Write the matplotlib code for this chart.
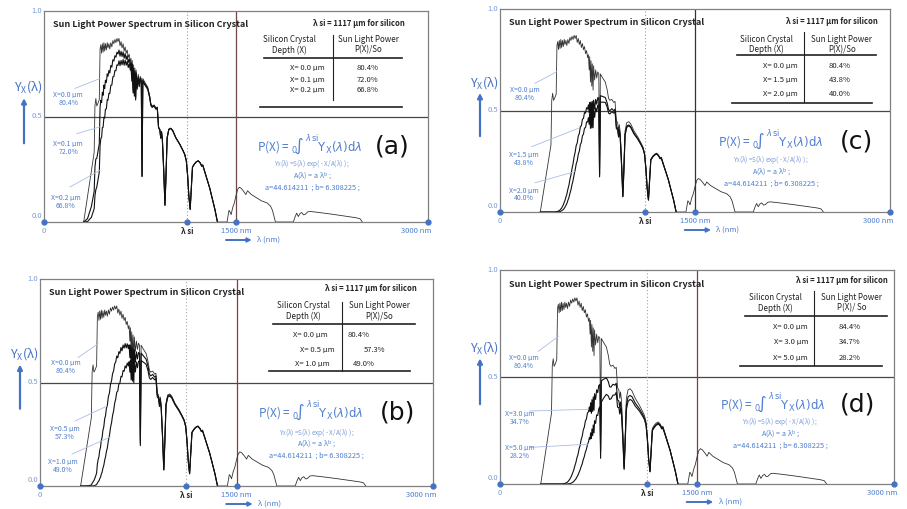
import matplotlib
matplotlib.use("Agg")
import matplotlib.pyplot as plt
import numpy as np

plt.rcParams['font.family'] = ['Noto Sans CJK JP', 'DejaVu Sans']
plt.rcParams['mathtext.fontset'] = 'dejavusans'

# sun spectrum S(lambda) read from the X=0 curve (nm, normalised power)
wl_band1 = [310, 340, 370, 392, 398, 405, 412, 420, 432, 438, 444, 450, 456, 462, 468, 474, 480, 487, 494, 500,
            507, 514, 522, 530, 538, 546, 554, 562, 570, 578, 586, 594, 602, 610, 618, 626, 634, 642, 650, 658,
            666, 674, 680, 686, 690, 696, 700, 706, 710, 716, 720, 728, 736, 744, 752, 760, 766, 772, 790, 810,
            825, 835, 845, 860, 875, 885, 895, 905, 912, 918, 925, 935, 945, 952, 962, 975, 990, 1005, 1030, 1060,
            1085, 1100, 1112, 1122, 1132, 1142, 1150, 1160, 1175, 1190, 1205, 1220, 1232, 1240, 1255, 1275, 1295, 1315, 1335, 1355]
sun_band1 = [0.000, 0.120, 0.240, 0.330, 0.550, 0.585, 0.550, 0.560, 0.580, 0.820, 0.840, 0.800, 0.845, 0.805, 0.850, 0.810, 0.845, 0.815, 0.850, 0.825,
             0.845, 0.820, 0.850, 0.830, 0.860, 0.845, 0.865, 0.850, 0.870, 0.855, 0.870, 0.835, 0.855, 0.825, 0.845, 0.810, 0.830, 0.800, 0.815, 0.780,
             0.795, 0.760, 0.775, 0.700, 0.765, 0.640, 0.745, 0.620, 0.730, 0.600, 0.720, 0.650, 0.700, 0.660, 0.690, 0.680, 0.220, 0.680, 0.660, 0.640,
             0.600, 0.560, 0.550, 0.555, 0.540, 0.545, 0.450, 0.440, 0.400, 0.430, 0.390, 0.250, 0.080, 0.200, 0.400, 0.440, 0.445, 0.435, 0.400, 0.370,
             0.340, 0.320, 0.290, 0.220, 0.120, 0.060, 0.150, 0.260, 0.275, 0.285, 0.290, 0.280, 0.265, 0.270, 0.240, 0.200, 0.160, 0.110, 0.060, 0.000]
wl_band2 = [1430, 1445, 1452, 1462, 1475, 1487, 1500, 1513, 1526, 1540, 1560, 1577, 1590, 1620, 1660, 1700, 1744, 1770, 1785, 1800, 1808]
sun_band2 = [0.000, 0.055, 0.050, 0.035, 0.070, 0.090, 0.125, 0.155, 0.165, 0.160, 0.145, 0.130, 0.148, 0.130, 0.115, 0.100, 0.090, 0.075, 0.055, 0.020, 0.000]
wl_band3 = [1948, 1962, 1974, 1987, 2000, 2013, 2028, 2040, 2060, 2080, 2150, 2250, 2350, 2440, 2470, 2487]
sun_band3 = [0.000, 0.025, 0.042, 0.026, 0.040, 0.045, 0.034, 0.036, 0.048, 0.050, 0.045, 0.037, 0.028, 0.020, 0.015, 0.000]

# curves inside the crystal, on the wl_band1 grid (values x 1000)
y_x01 = [0, 16, 73, 145, 260, 299, 301, 328, 371, 544, 577, 566, 615, 601, 649, 632, 672, 661, 702, 691,
         718, 706, 742, 734, 769, 763, 788, 781, 805, 796, 815, 786, 809, 784, 806, 776, 798, 771, 788, 756,
         772, 740, 755, 683, 747, 626, 729, 608, 716, 589, 707, 639, 689, 651, 681, 671, 217, 672, 653, 635,
         595, 556, 546, 552, 537, 542, 448, 438, 398, 428, 389, 249, 80, 199, 399, 439, 444, 434, 399, 369,
         340, 320, 290, 220, 120, 60, 150, 260, 275, 285, 290, 280, 265, 270, 240, 200, 160, 110, 60, 0]
y_x02 = [0, 2, 22, 63, 123, 153, 165, 193, 237, 362, 396, 401, 448, 449, 496, 493, 534, 536, 579, 578,
         610, 608, 648, 649, 688, 689, 718, 717, 745, 742, 764, 741, 766, 745, 770, 743, 767, 743, 762, 732,
         750, 720, 736, 667, 730, 612, 714, 596, 702, 578, 695, 629, 679, 641, 672, 663, 215, 665, 647, 629,
         591, 552, 543, 549, 534, 540, 446, 436, 397, 427, 387, 248, 79, 199, 398, 438, 443, 433, 399, 369,
         339, 319, 289, 220, 120, 60, 150, 260, 275, 285, 290, 280, 265, 270, 240, 200, 160, 110, 60, 0]
y_x05 = [0, 0, 1, 5, 13, 20, 27, 39, 62, 106, 128, 142, 173, 187, 221, 234, 268, 286, 326, 339,
         375, 389, 432, 449, 491, 508, 543, 556, 590, 599, 628, 619, 649, 640, 669, 653, 681, 666, 688, 667,
         687, 664, 682, 620, 681, 573, 670, 561, 662, 547, 659, 598, 648, 614, 645, 638, 207, 642, 628, 613,
         578, 541, 532, 539, 526, 532, 440, 431, 392, 422, 383, 246, 79, 197, 394, 434, 440, 430, 396, 367,
         338, 318, 288, 219, 119, 60, 149, 259, 274, 284, 289, 279, 264, 269, 239, 199, 159, 110, 60, 0]
y_x10 = [0, 0, 0, 0, 0, 1, 1, 3, 7, 14, 20, 25, 35, 43, 57, 67, 85, 100, 125, 140,
         166, 184, 220, 243, 281, 305, 341, 363, 400, 420, 453, 459, 493, 497, 530, 527, 558, 554, 580, 570,
         594, 580, 600, 550, 606, 513, 602, 507, 601, 499, 603, 551, 599, 571, 603, 599, 195, 606, 598, 588,
         556, 522, 515, 524, 513, 519, 430, 422, 384, 414, 376, 242, 77, 194, 389, 429, 434, 426, 393, 364,
         335, 316, 287, 218, 119, 59, 149, 258, 273, 283, 288, 278, 263, 268, 239, 199, 159, 110, 60, 0]
y_x15 = [0, 0, 0, 0, 0, 0, 0, 0, 1, 2, 3, 5, 7, 10, 15, 19, 27, 35, 48, 57,
         74, 87, 112, 131, 161, 183, 214, 238, 271, 294, 327, 340, 374, 386, 420, 425, 457, 461, 490, 487,
         514, 507, 528, 487, 539, 460, 542, 458, 545, 455, 551, 507, 555, 531, 563, 562, 184, 573, 569, 564,
         536, 504, 499, 509, 499, 507, 421, 413, 377, 406, 369, 237, 76, 191, 383, 423, 429, 421, 389, 361,
         333, 314, 285, 216, 118, 59, 148, 257, 272, 282, 287, 277, 263, 268, 238, 199, 159, 109, 60, 0]
y_x20 = [0, 0, 0, 0, 0, 0, 0, 0, 0, 0, 0, 1, 1, 2, 4, 6, 9, 12, 18, 24,
         33, 41, 57, 71, 92, 110, 135, 155, 184, 206, 236, 252, 284, 299, 332, 343, 375, 384, 413, 416,
         444, 443, 465, 432, 480, 412, 487, 414, 495, 415, 504, 466, 513, 494, 526, 528, 173, 541, 541, 540,
         516, 487, 483, 494, 487, 495, 411, 404, 369, 398, 362, 233, 75, 188, 378, 417, 424, 417, 385, 359,
         331, 312, 283, 215, 118, 59, 147, 255, 271, 281, 286, 276, 262, 267, 237, 198, 159, 109, 60, 0]
y_x30 = [0, 0, 0, 0, 0, 0, 0, 0, 0, 0, 0, 0, 0, 0, 0, 0, 1, 2, 3, 4,
         6, 9, 15, 21, 30, 40, 53, 66, 85, 101, 123, 138, 164, 180, 208, 223, 252, 266, 294, 304,
         332, 338, 360, 339, 380, 330, 394, 339, 407, 345, 422, 395, 440, 427, 460, 465, 153, 482, 490, 496,
         478, 454, 453, 466, 462, 471, 393, 388, 355, 383, 349, 226, 73, 182, 367, 407, 414, 408, 378, 353,
         327, 308, 280, 213, 116, 58, 146, 253, 268, 279, 284, 275, 260, 265, 236, 197, 158, 109, 59, 0]
y_x50 = [0, 0, 0, 0, 0, 0, 0, 0, 0, 0, 0, 0, 0, 0, 0, 0, 0, 0, 0, 0,
         0, 0, 1, 2, 3, 5, 8, 12, 18, 24, 33, 42, 54, 66, 82, 94, 114, 128, 149, 162,
         185, 197, 216, 209, 239, 213, 257, 226, 276, 239, 296, 283, 323, 320, 351, 361, 120, 383, 402, 419,
         411, 395, 398, 415, 416, 428, 359, 357, 327, 355, 325, 211, 68, 172, 347, 386, 395, 390, 364, 342,
         318, 301, 274, 208, 114, 57, 143, 249, 264, 275, 280, 271, 257, 262, 234, 195, 157, 108, 59, 0]

lambda_si = 1117
depths = [[0.0, 0.1, 0.2], [0.0, 0.5, 1.0], [0.0, 1.5, 2.0], [0.0, 3.0, 5.0]]
table_pct = [['80.4%', '72.0%', '66.8%'], ['80.4%', '57.3%', '49.0%'],
             ['80.4%', '43.8%', '40.0%'], ['84.4%', '34.7%', '28.2%']]
curve_pct = [['80.4%', '72.0%', '66.8%'], ['80.4%', '57.3%', '49.0%'],
             ['80.4%', '43.8%', '40.0%'], ['80.4%', '34.7%', '28.2%']]
panel_names = ['(a)', '(b)', '(c)', '(d)']

y_curves = {0.1: y_x01, 0.2: y_x02, 0.5: y_x05, 1.0: y_x10, 1.5: y_x15, 2.0: y_x20, 3.0: y_x30, 5.0: y_x50}

BLUE = '#4472c4'
TXT = '#4f7fcf'
LIGHT = '#7b9bd8'
W, H = 907, 509
boxes = [(44, 11, 428, 222), (40, 279, 433, 486), (500, 9, 890, 212), (500, 270, 894, 484)]
vline_col = ['#6e4848', '#8a3c3c', '#333333', '#8a3c3c']
si_col = ['#9a9a9a', '#a8a8a8', '#9a9a9a', '#d98a8a']

# layout per panel (nm / Y positions)
lay = [
    dict(note=(2820, 0.942), c1=1914, c2=2531, div=(2258, 0.578, 0.886), head=(0.866, 0.815),
         rule1=(0.776, 1719, 2797), rows=(0.728, 0.673, 0.626), rlab=[2195] * 3, rval=[2529] * 3,
         rule2=(0.546, 1688, 2795), form=(2078, 0.357), small=(2095, 0.275, 0.227, 0.171), name=(2723, 0.357),
         labs=[(190, 0.604), (190, 0.369), (169, 0.114)],
         ptr=[(242, 0.633, 437, 0.68), (258, 0.419, 437, 0.451), (203, 0.166, 437, 0.245)]),
    dict(note=(2876, 0.955), c1=2009, c2=2590, div=(2303, 0.554, 0.891), head=(0.872, 0.819),
         rule1=(0.784, 1780, 2863), rows=(0.731, 0.655, 0.59), rlab=[2199, 2252, 2214], rval=[2436, 2557, 2473],
         rule2=(0.555, 1750, 2825), form=(2069, 0.356), small=(2112, 0.26, 0.21, 0.154), name=(2733, 0.356),
         labs=[(198, 0.595), (191, 0.274), (172, 0.114)],
         ptr=[(290, 0.62, 443, 0.6875), (267, 0.314, 511, 0.386), (244, 0.154, 534, 0.236)]),
    dict(note=(2908, 0.937), c1=2046, c2=2628, div=(2338, 0.543, 0.888), head=(0.851, 0.801),
         rule1=(0.773, 1823, 2892), rows=(0.719, 0.650, 0.58), rlab=[2292] * 3, rval=[2615] * 3,
         rule2=(0.538, 1785, 2862), form=(2085, 0.346), small=(2089, 0.256, 0.207, 0.149), name=(2744, 0.346),
         labs=[(192, 0.60), (180, 0.281), (180, 0.105)],
         ptr=[(269, 0.634, 436, 0.691), (244, 0.322, 602, 0.412), (269, 0.144, 577, 0.199)]),
    dict(note=(2955, 0.953), c1=2094, c2=2678, div=(2391, 0.558, 0.90), head=(0.871, 0.822),
         rule1=(0.786, 1865, 2944), rows=(0.732, 0.662, 0.589), rlab=[2347] * 3, rval=[2665] * 3,
         rule2=(0.553, 1827, 2906), form=(2075, 0.372), small=(2132, 0.294, 0.24, 0.186), name=(2726, 0.372),
         labs=[(178, 0.589), (152, 0.329), (152, 0.17)],
         ptr=[(292, 0.62, 444, 0.69), (228, 0.341, 672, 0.349), (228, 0.171, 672, 0.186)]),
]

wl_all = wl_band1 + wl_band2 + wl_band3
sun_all = sun_band1 + sun_band2 + sun_band3

fig = plt.figure(figsize=(9.07, 5.09), dpi=100)
for i, (l, t, r, b) in enumerate(boxes):
    L = lay[i]
    ax = fig.add_axes([l / W, 1 - b / H, (r - l) / W, (b - t) / H])
    ax.set_xlim(0, 3000)
    ax.set_ylim(0, 1)
    ax.set_xticks([])
    ax.set_yticks([])
    for sp in ax.spines.values():
        sp.set_color('#808080')
        sp.set_linewidth(0.9)
    wpx, hpx = r - l, b - t
    xt = ax.get_xaxis_transform()

    ax.axhline(0.5, color='#474747', lw=0.9)
    ax.axvline(1500, color=vline_col[i], lw=0.9)
    ax.axvline(lambda_si, color=si_col[i], lw=0.8, ls=(0, (1, 2)))

    # X = 0 curve (sun spectrum) and the two deeper curves
    ax.plot(wl_all, sun_all, color='#333333', lw=0.6)
    for X in depths[i][1:]:
        ax.plot(wl_band1, np.array(y_curves[X]) / 1000, color='#111111', lw=0.8)

    ax.plot([0, lambda_si, 1500, 3000], [0, 0, 0, 0], 'o', ms=3.5, color=BLUE, clip_on=False, zorder=5)

    # y tick labels and axis name
    for yv, lab in [(1.0, '1.0'), (0.5, '0.5'), (0.03, '0.0')]:
        ax.text(-2 / wpx, yv, lab, transform=ax.transAxes, ha='right', va='center', fontsize=5.5, color=LIGHT)
    ax.text(-16 / wpx, 0.64, 'Y$_\\mathregular{X}$(λ)', transform=ax.transAxes, ha='center', va='center',
            fontsize=9, color=BLUE)
    ax.annotate('', xy=(-20 / wpx, 0.60), xytext=(-20 / wpx, 0.36), xycoords='axes fraction',
                arrowprops=dict(arrowstyle='-|>', color=BLUE, lw=1.6, mutation_scale=7), annotation_clip=False)

    # bottom labels
    yb = -9 / hpx
    ax.text(0, yb, '0', transform=xt, ha='center', va='center', fontsize=5.5, color=LIGHT)
    ax.text(lambda_si, yb, 'λ si', transform=xt, ha='center', va='center', fontsize=5.5, color='#222222',
            fontweight='bold')
    ax.text(1500, yb, '1500 nm', transform=xt, ha='center', va='center', fontsize=5.5, color=TXT)
    ax.text(2910, yb, '3000 nm', transform=xt, ha='center', va='center', fontsize=5.5, color=TXT)
    ya = -18 / hpx
    ax.annotate('', xy=(1645, ya), xytext=(1400, ya), xycoords=xt,
                arrowprops=dict(arrowstyle='-|>', color=BLUE, lw=1.4, mutation_scale=6), annotation_clip=False)
    ax.text(1665, ya, 'λ (nm)', transform=xt, ha='left', va='center', fontsize=5.5, color=TXT)

    # title and note
    ax.text(68, 0.934, 'Sun Light Power Spectrum in Silicon Crystal', fontsize=6.5, fontweight='bold',
            ha='left', va='center', color='#222222')
    ax.text(L['note'][0], L['note'][1], 'λ si = 1117 μm for silicon', fontsize=5.5, fontweight='bold',
            ha='right', va='center', color='#222222')

    # table
    ax.text(L['c1'], L['head'][0], 'Silicon Crystal', fontsize=5.8, ha='center', va='center', color='#222222')
    ax.text(L['c1'], L['head'][1], 'Depth (X)', fontsize=5.8, ha='center', va='center', color='#222222')
    ax.text(L['c2'], L['head'][0], 'Sun Light Power', fontsize=5.8, ha='center', va='center', color='#222222')
    ax.text(L['c2'], L['head'][1], 'P(X)/ So' if i == 3 else 'P(X)/So', fontsize=5.8, ha='center',
            va='center', color='#222222')
    ax.plot([L['div'][0]] * 2, [L['div'][1], L['div'][2]], color='#222222', lw=0.8)
    ax.plot([L['rule1'][1], L['rule1'][2]], [L['rule1'][0]] * 2, color='#222222', lw=1.2)
    ax.plot([L['rule2'][1], L['rule2'][2]], [L['rule2'][0]] * 2, color='#222222', lw=1.2)
    for k in range(3):
        ax.text(L['rlab'][k], L['rows'][k], 'X= %.1f μm' % depths[i][k], fontsize=5.5, ha='right', va='center',
                color='#222222')
        ax.text(L['rval'][k], L['rows'][k], table_pct[i][k], fontsize=5.5, ha='center', va='center',
                color='#222222')

    # formula
    ax.text(L['form'][0], L['form'][1] + 0.01,
            r'P(X) = $_{0}\!\int^{\lambda\,\mathrm{si}}\mathrm{Y}_{\mathrm{X}}(\lambda)\mathrm{d}\lambda$',
            fontsize=8.5, ha='center', va='center', color=TXT)
    sx, s1, s2, s3 = L['small']
    ax.text(sx, s1 - 0.002, 'Y$_\\mathregular{X}$(λ) =S(λ) exp( - X/A(λ) ) ;', fontsize=4.6, ha='center',
            va='center', color=LIGHT)
    ax.text(sx, s2 - 0.008, 'A(λ) = a λ$^\\mathregular{b}$ ;', fontsize=5.2, ha='center', va='center', color=TXT)
    ax.text(sx, s3 - 0.008, 'a=44.614211  ; b= 6.308225 ;', fontsize=5.3, ha='center', va='center', color=TXT)
    ax.text(L['name'][0], L['name'][1], panel_names[i], fontsize=18, ha='center', va='center', color='#111111',
            family='DejaVu Sans')

    # curve labels with pointer lines
    for k in range(3):
        lx, ly = L['labs'][k]
        ax.text(lx, ly, 'X=%.1f μm' % depths[i][k], fontsize=5, ha='center', va='center', color=TXT)
        ax.text(lx, ly - 0.038, curve_pct[i][k], fontsize=5, ha='center', va='center', color=TXT)
        x1, y1, x2, y2 = L['ptr'][k]
        ax.plot([x1, x2], [y1, y2], color='#a9bde3', lw=0.6)

fig.savefig('out.png', dpi=100)
